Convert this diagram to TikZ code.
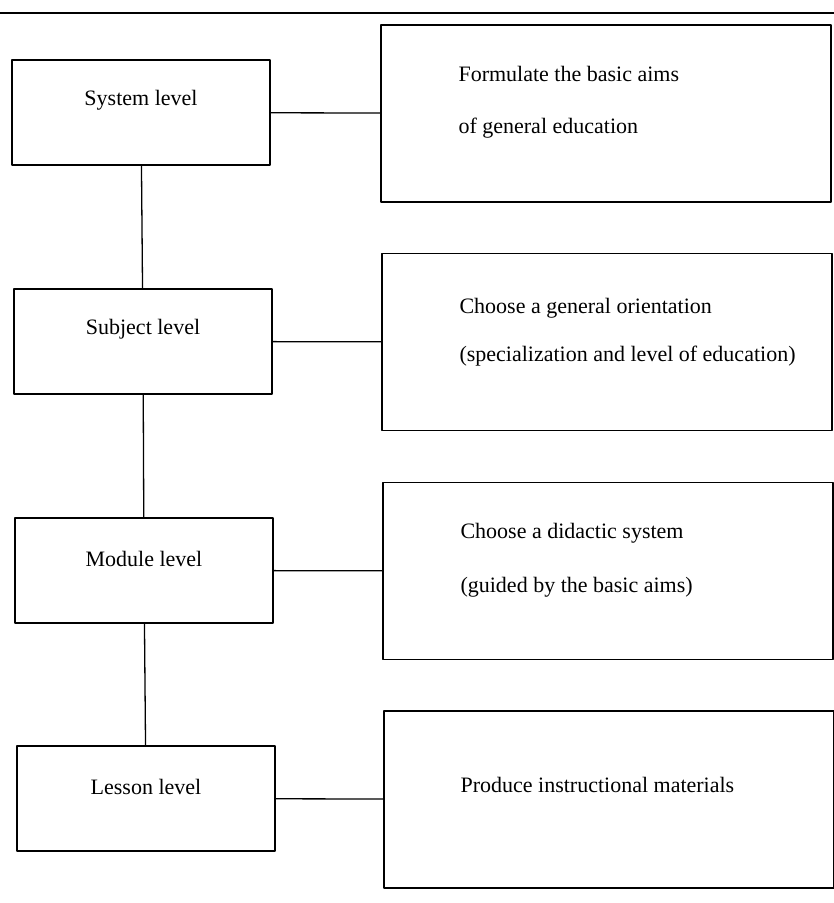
\documentclass[tikz,border=0pt]{standalone}
\usepackage{fontspec}
\setmainfont{Liberation Serif}
\begin{document}
\begin{tikzpicture}[x=1pt, y=-1pt, font=\fontsize{22}{26}\selectfont, line join=round, line cap=round,
	level/.style={draw, line width=1.3pt, minimum width=258pt, minimum height=105pt, inner sep=0pt},
	task/.style={draw, line width=1.3pt, minimum width=450pt, minimum height=177pt, inner sep=0pt},
	txt/.style={inner sep=0pt, text height=15pt, text depth=5pt, anchor=west},
	lbl/.style={inner sep=0pt, yshift=12pt}]
	\def\lw{258} \def\rw{450} \def\rh{177}
	\useasboundingbox (0,0) rectangle (834,903);
	\coordinate (ruleL) at (0,13);
	\coordinate (ruleR) at (834,13);
	\draw[line width=2pt] (ruleL)--(ruleR);
	\node[level, label={[lbl]center:System level}] (sys) at (141,112.5) {};
	\node[level, label={[lbl]center:Subject level}] (subj) at (143,341.5) {};
	\node[level, label={[lbl]center:Module level}] (mod) at (144,570.5) {};
	\node[level, label={[lbl]center:Lesson level}] (les) at (146,798.5) {};
	\node[task] (aims) at (606,113.5) {};
	\node[task] (orient) at (607,342) {};
	\node[task] (didac) at (608,571) {};
	\node[task] (mater) at (609,799.5) {};
	\node[txt] (aimsA) at ([xshift=78pt,yshift=37pt]aims.west) {Formulate the basic aims};
	\node[txt] (aimsB) at ([xshift=78pt,yshift=-15pt]aims.west) {of general education};
	\node[txt] (orientA) at ([xshift=78pt,yshift=34pt]orient.west) {Choose a general orientation};
	\node[txt] (orientB) at ([xshift=78pt,yshift=-14pt]orient.west) {(specialization and level of education)};
	\node[txt] (didacA) at ([xshift=78pt,yshift=38pt]didac.west) {Choose a didactic system};
	\node[txt] (didacB) at ([xshift=78pt,yshift=-16pt]didac.west) {(guided by the basic aims)};
	\node[txt] (materA) at ([xshift=77pt,yshift=12.5pt]mater.west) {Produce instructional materials};
	\foreach \a/\b in {sys/subj,subj/mod,mod/les} \draw[line width=1.3pt] (\a)--(\b);
	\foreach \a/\b in {sys/aims,subj/orient,mod/didac,les/mater} \draw[line width=1.3pt] (\a)--(\b);
\end{tikzpicture}
\end{document}
